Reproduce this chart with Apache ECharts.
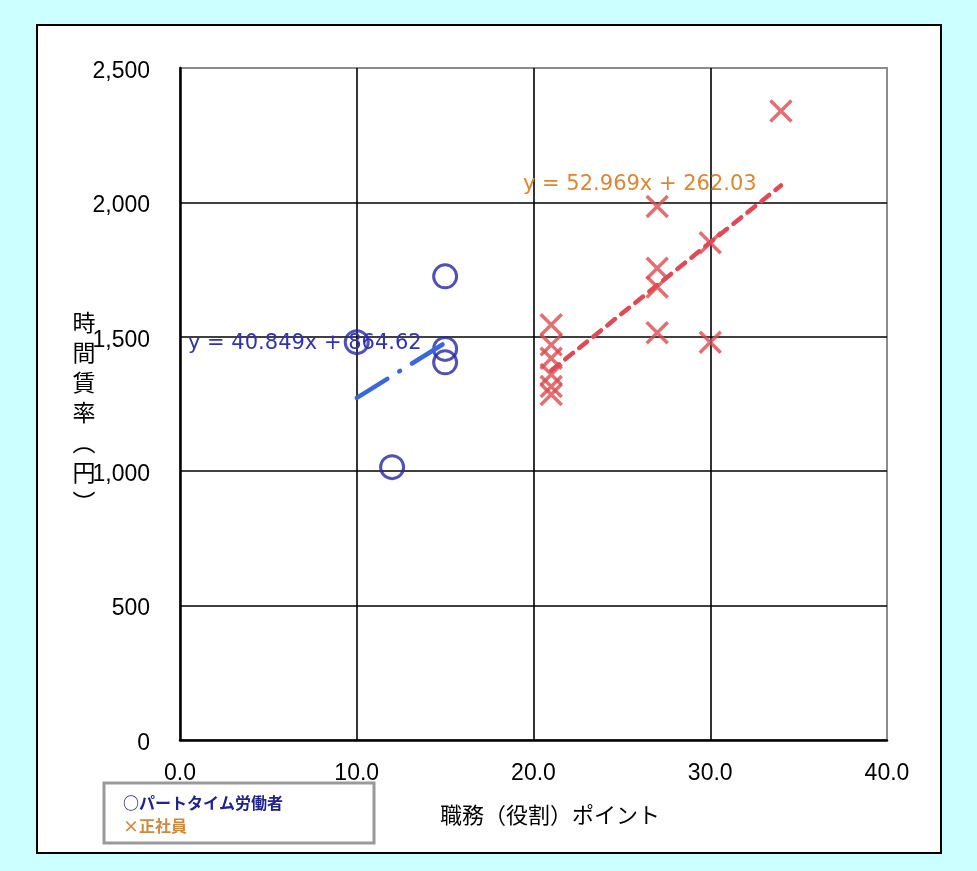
<!DOCTYPE html>
<html>
<head>
<meta charset="utf-8">
<script src="https://cdn.jsdelivr.net/npm/echarts@6/dist/echarts.min.js"></script>
<style>
html,body{margin:0;padding:0;background:#ccffff;}
#frame{position:absolute;left:36px;top:24px;width:902px;height:826px;border:2px solid #000;background:#fff;}
#chart{position:absolute;left:0;top:0;width:977px;height:871px;}
</style>
</head>
<body>
<div id="frame"></div>
<div id="chart"></div>
<script>
// ---- data ----
const xTicks = [0, 10, 20, 30, 40];
const yTicks = [0, 500, 1000, 1500, 2000, 2500];
const partX = [10, 15, 15, 15, 12];
const partY = [1480, 1725, 1455, 1405, 1015];
const seiX = [21, 21, 21, 21, 21, 21, 27, 27, 27, 27, 30, 30, 34];
const seiY = [1545, 1470, 1420, 1360, 1315, 1285, 1985, 1755, 1685, 1515, 1850, 1480, 2340];
const trendPartX = [10, 15];
const trendPartY = [1273.1, 1477.4];
const trendSeiX = [21, 34];
const trendSeiY = [1374.4, 2063.0];
const eqPart = 'y = 40.849x + 864.62';
const eqSei = 'y = 52.969x + 262.03';
const xTitle = '職務（役割）ポイント';
const yTitle = ['時', '間', '賃', '率', '︵', '円', '︶'];
const legendItems = ['○パートタイム労働者', '×正社員'];

const zip = (a, b) => a.map((v, i) => [v, b[i]]);

const chart = echarts.init(document.getElementById('chart'), null, {renderer: 'canvas'});
const option = {
  backgroundColor: 'transparent',
  animation: false,
  grid: {left: 180, right: 90, top: 68, bottom: 131, show: true, borderColor: '#8c8c8c', borderWidth: 2, backgroundColor: 'transparent'},
  xAxis: {
    type: 'value', min: xTicks[0], max: xTicks[xTicks.length - 1], interval: 10,
    axisLine: {show: true, onZero: false, lineStyle: {color: '#000', width: 2.5}},
    axisTick: {show: false},
    splitLine: {show: true, showMinLine: false, showMaxLine: false, lineStyle: {color: '#000', width: 1.6}},
    axisLabel: {formatter: v => v.toFixed(1), fontFamily: 'Liberation Sans', fontSize: 23, color: '#000', margin: 22}
  },
  yAxis: {
    type: 'value', min: yTicks[0], max: yTicks[yTicks.length - 1], interval: 500,
    axisLine: {show: true, onZero: false, lineStyle: {color: '#000', width: 2.5}},
    axisTick: {show: false},
    splitLine: {show: true, showMinLine: false, showMaxLine: false, lineStyle: {color: '#000', width: 1.6}},
    axisLabel: {
      formatter: v => '{a|' + v.toLocaleString('en-US') + '}', margin: 30,
      rich: {a: {fontFamily: 'Liberation Sans', fontSize: 23, color: '#000', padding: [7, 0, 0, 0]}}
    }
  },
  series: [
    {
      type: 'scatter', name: 'part', data: zip(partX, partY),
      symbol: 'circle', symbolSize: 23,
      itemStyle: {color: 'rgba(0,0,0,0)', borderColor: '#2727a2', borderWidth: 3},
      emphasis: {disabled: true}, z: 3
    },
    {
      type: 'scatter', name: 'sei', data: zip(seiX, seiY),
      symbol: 'path://M0,0L10,10M10,0L0,10', symbolSize: 21,
      itemStyle: {color: 'rgba(0,0,0,0)', borderColor: '#de4a50', borderWidth: 3.5},
      emphasis: {disabled: true}, z: 3
    },
    {
      type: 'line', data: zip(trendPartX, trendPartY), symbol: 'none',
      lineStyle: {color: '#3a68dc', width: 4.5, type: [36, 14, 1, 14], cap: 'round'},
      emphasis: {disabled: true}, z: 4
    },
    {
      type: 'line', data: zip(trendSeiX, trendSeiY), symbol: 'none',
      lineStyle: {color: '#e04a55', width: 4.5, type: [10, 8], cap: 'round'},
      emphasis: {disabled: true}, z: 4
    }
  ],
  graphic: [
    {type: 'text', left: 188, top: 333, z: 10, style: {text: eqPart, font: '21px "DejaVu Sans"', fill: '#3333ad'}},
    {type: 'text', left: 523, top: 174, z: 10, style: {text: eqSei, font: '21px "DejaVu Sans"', fill: '#dc8632'}},
    {type: 'text', x: 550, y: 815, z: 10, style: {text: xTitle, font: '22px "Noto Sans CJK JP"', fill: '#000', align: 'center', verticalAlign: 'middle'}},
    {type: 'text', x: 84, y: 412, z: 10, style: {text: yTitle.join('\n'), font: '23px "Noto Sans CJK JP"', lineHeight: 30, fill: '#000', align: 'center', verticalAlign: 'middle'}},
    {type: 'rect', shape: {x: 104, y: 783, width: 270, height: 60}, z: 10, style: {fill: '#fff', stroke: '#9a9a9a', lineWidth: 3}},
    {type: 'text', x: 123, y: 803, z: 11, style: {text: legendItems[0], font: 'bold 16px "Noto Sans CJK JP"', fill: '#22228c', verticalAlign: 'middle'}},
    {type: 'text', x: 123, y: 826, z: 11, style: {text: legendItems[1], font: 'bold 16px "Noto Sans CJK JP"', fill: '#d0883a', verticalAlign: 'middle'}}
  ]
};
chart.setOption(option);
</script>
</body>
</html>
